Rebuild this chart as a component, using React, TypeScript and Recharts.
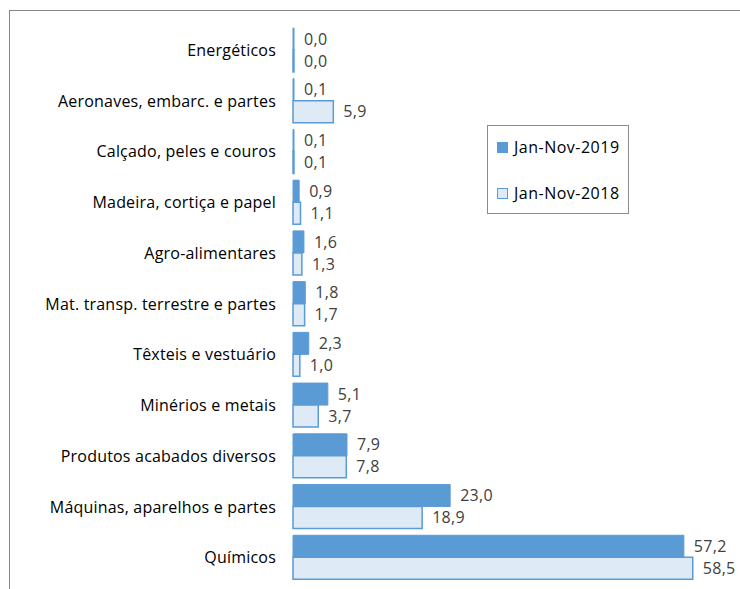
import { BarChart, Bar, XAxis, YAxis, LabelList } from 'recharts';

const categories = [
  'Energéticos',
  'Aeronaves, embarc. e partes',
  'Calçado, peles e couros',
  'Madeira, cortiça e papel',
  'Agro-alimentares',
  'Mat. transp. terrestre e partes',
  'Têxteis e vestuário',
  'Minérios e metais',
  'Produtos acabados diversos',
  'Máquinas, aparelhos e partes',
  'Químicos',
];

const values2019 = [0.0, 0.1, 0.1, 0.9, 1.6, 1.8, 2.3, 5.1, 7.9, 23.0, 57.2];
const values2018 = [0.0, 5.9, 0.1, 1.1, 1.3, 1.7, 1.0, 3.7, 7.8, 18.9, 58.5];

const boundaryTicks = [0, 1, 2, 3, 4, 5, 6, 7, 8, 9, 10, 11];

const chartData = categories.map((name, i) => ({
  name,
  y2019: values2019[i],
  y2018: values2018[i],
}));

const FONT = '"Open Sans", "DejaVu Sans", sans-serif';
const DARK = '#5B9BD5';
const LIGHT = '#DEEBF7';
const AXIS = '#868686';

const fmt = (v: any) => Number(v).toFixed(1).replace('.', ',');

const legendItems = [
  { label: 'Jan-Nov-2019', fill: DARK },
  { label: 'Jan-Nov-2018', fill: LIGHT },
];

const LegendBox = () => (
  <div
    style={{
      position: 'absolute',
      left: 487,
      top: 125,
      width: 142,
      height: 89,
      border: '1px solid #8c8c8c',
      background: '#fff',
      fontFamily: FONT,
      fontSize: 16,
      letterSpacing: 0.5,
      color: '#000',
      boxSizing: 'border-box',
    }}
  >
    {legendItems.map((it, i) => (
      <div
        key={it.label}
        style={{ position: 'absolute', left: 9, top: 10 + i * 46, display: 'flex', alignItems: 'center', whiteSpace: 'nowrap' }}
      >
        <span
          style={{
            display: 'inline-block',
            width: 9,
            height: 9,
            background: it.fill,
            border: `1px solid ${DARK}`,
            marginRight: 6,
          }}
        />
        <span>{it.label}</span>
      </div>
    ))}
  </div>
);

export default function App() {
  return (
    <div style={{ position: 'fixed', left: 0, top: 0, width: 740, height: 589, overflow: 'hidden', background: '#fff' }}>
      <div
        style={{
          position: 'absolute',
          left: 9,
          top: 10,
          width: 800,
          height: 700,
          border: `1px solid ${AXIS}`,
        }}
      />
      <div style={{ position: 'absolute', left: 0, top: 0 }}>
        <BarChart
          width={740}
          height={589}
          data={chartData}
          layout="vertical"
          margin={{ top: 25, right: 37, bottom: 6, left: 0 }}
          barCategoryGap={3}
          barGap={0}
        >
          <XAxis type="number" domain={[0, 60]} hide />
          <YAxis
            yAxisId="edges"
            type="number"
            domain={[0, 11]}
            ticks={boundaryTicks}
            tick={false}
            width={0}
            axisLine={{ stroke: AXIS, strokeWidth: 1.5 }}
            tickLine={{ stroke: AXIS, strokeWidth: 1.5 }}
            tickSize={6}
          />
          <YAxis
            yAxisId="cat"
            type="category"
            dataKey="name"
            width={293}
            axisLine={false}
            tickLine={false}
            tickMargin={11}
            tick={{ fontFamily: FONT, fontSize: 16, fill: '#000', letterSpacing: 0.2 }}
            interval={0}
          />
          <Bar
            yAxisId="cat"
            dataKey="y2019"
            name="Jan-Nov-2019"
            fill={DARK}
            stroke={DARK}
            minPointSize={1}
            isAnimationActive={false}
          >
            <LabelList
              dataKey="y2019"
              position="right"
              offset={10}
              formatter={fmt}
              style={{ fontFamily: FONT, fontSize: 16, fill: '#404040', letterSpacing: 0.3 }}
            />
          </Bar>
          <Bar
            yAxisId="cat"
            dataKey="y2018"
            name="Jan-Nov-2018"
            fill={LIGHT}
            stroke={DARK}
            strokeWidth={1.5}
            minPointSize={1}
            isAnimationActive={false}
          >
            <LabelList
              dataKey="y2018"
              position="right"
              offset={10}
              formatter={fmt}
              style={{ fontFamily: FONT, fontSize: 16, fill: '#404040', letterSpacing: 0.3 }}
            />
          </Bar>
        </BarChart>
      </div>
      <LegendBox />
    </div>
  );
}
